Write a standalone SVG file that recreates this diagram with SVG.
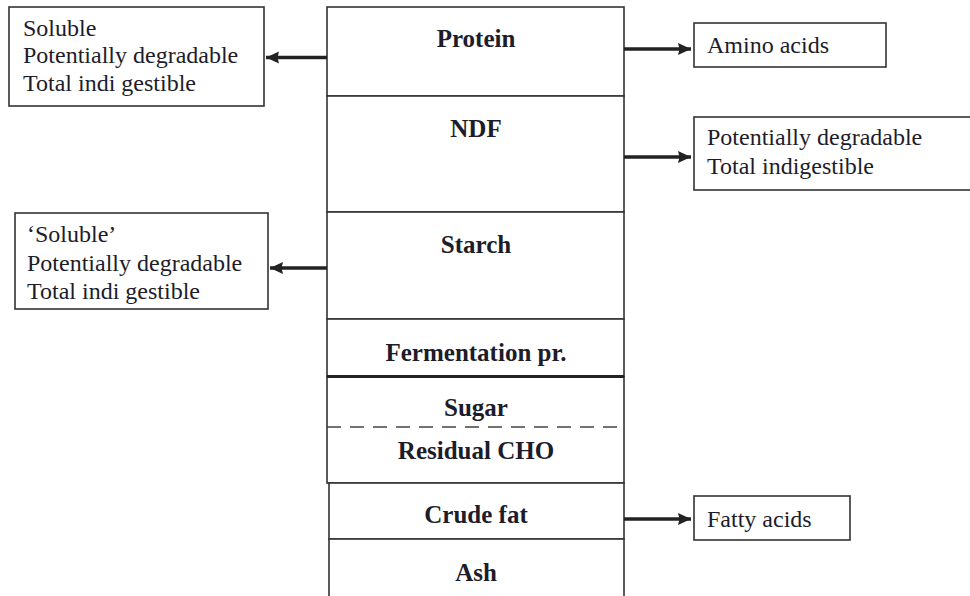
<svg xmlns="http://www.w3.org/2000/svg" width="970" height="596" viewBox="0 0 970 596">
<defs>
<style>
.bx{fill:#fff;stroke:#333;stroke-width:1.6}
.t{font-family:"Liberation Serif","Times New Roman",serif;font-size:24px;fill:#1c1c2a}
.b{font-family:"Liberation Serif","Times New Roman",serif;font-size:25px;font-weight:bold;fill:#1c1c2a;text-anchor:middle}
.ar{stroke:#222;stroke-width:3.5;fill:none;marker-end:url(#ah)}
</style>
<marker id="ah" markerUnits="userSpaceOnUse" viewBox="0 0 14 14" refX="13" refY="7" markerWidth="14" markerHeight="14" orient="auto">
<path d="M0,1 L13,7 L0,13 L1.5,7 Z" fill="#222"/>
</marker>
</defs>
<rect width="970" height="596" fill="#fff"/>

<g id="column">
<g id="protein"><rect class="bx" x="327" y="7" width="297" height="89"/><text class="b" x="476" y="47">Protein</text></g>
<g id="ndf"><rect class="bx" x="327" y="96" width="297" height="116"/><text class="b" x="476" y="137">NDF</text></g>
<g id="starch"><rect class="bx" x="327" y="212" width="297" height="107"/><text class="b" x="476" y="253">Starch</text></g>
<g id="fermentation"><rect class="bx" x="327" y="319" width="297" height="57.5"/><text class="b" x="476" y="361">Fermentation pr.</text></g>
<g id="sugar-cho"><rect class="bx" x="327" y="376.5" width="297" height="106.5"/>
<line x1="327" y1="376.5" x2="624" y2="376.5" stroke="#222" stroke-width="3"/>
<line x1="327" y1="427" x2="624" y2="427" stroke="#444" stroke-width="1.6" stroke-dasharray="14 9"/>
<text class="b" x="476" y="416">Sugar</text><text class="b" x="476" y="459">Residual CHO</text></g>
<g id="crudefat"><rect class="bx" x="329" y="483" width="295" height="56"/><text class="b" x="476" y="523">Crude fat</text></g>
<g id="ash"><rect class="bx" x="329" y="539" width="295" height="70"/><text class="b" x="476" y="581">Ash</text></g>
</g>

<g id="protein-fractions"><rect class="bx" x="9" y="7" width="255" height="99"/>
<text class="t" x="23" y="36">Soluble</text><text class="t" x="23" y="63">Potentially degradable</text><text class="t" x="23" y="91">Total indi gestible</text></g>

<g id="starch-fractions"><rect class="bx" x="15" y="213" width="253" height="96"/>
<text class="t" x="27" y="242">‘Soluble’</text><text class="t" x="27" y="271">Potentially degradable</text><text class="t" x="27" y="299">Total indi gestible</text></g>

<g id="amino-acids"><rect class="bx" x="694" y="23" width="192" height="44"/><text class="t" x="707" y="53">Amino acids</text></g>

<g id="ndf-fractions"><rect class="bx" x="694" y="117" width="290" height="73"/>
<text class="t" x="707" y="145">Potentially degradable</text><text class="t" x="707" y="174">Total indigestible</text></g>

<g id="fatty-acids"><rect class="bx" x="694" y="496" width="156" height="44"/><text class="t" x="707" y="527">Fatty acids</text></g>

<g id="connectors">
<line class="ar" x1="327" y1="57.5" x2="266" y2="57.5"/>
<line class="ar" x1="327" y1="268" x2="270" y2="268"/>
<line class="ar" x1="624" y1="49" x2="691" y2="49"/>
<line class="ar" x1="624" y1="157" x2="691" y2="157"/>
<line class="ar" x1="624" y1="519" x2="691" y2="519"/>
</g>
</svg>
